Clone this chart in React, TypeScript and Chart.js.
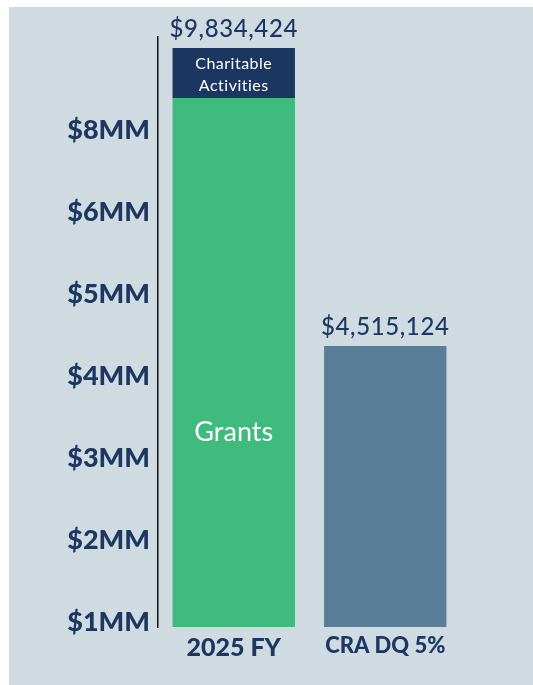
import React, { useEffect, useRef } from "react";
import { Chart, registerables } from "chart.js";

Chart.register(...registerables);

// ---- data ----
const CATEGORIES = ["2025 FY", "CRA DQ 5%"];
const GRANTS = [8942000, null];
const CHARITABLE_ACTIVITIES = [892424, null];
const CRA_DQ = [null, 4515124];
const Y_TICK_LABELS = ["$1MM", "$2MM", "$3MM", "$4MM", "$5MM", "$6MM", "$8MM"];
const GRANTS_LABEL = "Grants";
const CHARITABLE_LABEL = ["Charitable", "Activities"];

// ---- styles ----
const PANEL_BG = "#cfdae1";
const GREEN = "#40bb7e";
const NAVY_BAR = "#1b3660";
const SLATE = "#5a7e97";
const TEXT_NAVY = "#1c3762";
const FONT = "Lato, 'Open Sans', sans-serif";
const HEAVY_FONT = "'Lato Black', Lato, 'Open Sans', sans-serif";

const fmt = (v: number) => "$" + v.toLocaleString("en-US");

const labelPlugin = {
  id: "barLabels",
  afterDatasetsDraw(chart: any) {
    const ctx = chart.ctx as CanvasRenderingContext2D;
    const y = chart.scales.y;
    ctx.save();
    ctx.textAlign = "center";

    // totals above each category
    CATEGORIES.forEach((_, i) => {
      let total = 0;
      let x: number | null = null;
      chart.data.datasets.forEach((d: any, di: number) => {
        const v = d.data[i];
        if (v != null) {
          total += v;
          x = chart.getDatasetMeta(di).data[i].x;
        }
      });
      if (x == null) return;
      const top = y.getPixelForValue(total);
      ctx.font = `500 24px ${FONT}`;
      (ctx as any).letterSpacing = "0.6px";
      ctx.fillStyle = TEXT_NAVY;
      ctx.textBaseline = "alphabetic";
      ctx.fillText(fmt(total), x, top - 11);
    });
    (ctx as any).letterSpacing = "0px";

    // Grants label inside the green bar
    const g = chart.getDatasetMeta(0).data[0];
    ctx.fillStyle = "#ffffff";
    ctx.font = `400 27px ${FONT}`;
    ctx.textBaseline = "middle";
    ctx.fillText(GRANTS_LABEL, g.x, y.getPixelForValue((GRANTS[0] as number) / 3));

    // Charitable Activities label inside the navy segment
    const c = chart.getDatasetMeta(1).data[0];
    const mid = (c.y + c.base) / 2;
    ctx.font = `400 16px ${FONT}`;
    (ctx as any).letterSpacing = "0.5px";
    ctx.textBaseline = "alphabetic";
    ctx.fillText(CHARITABLE_LABEL[0], c.x, mid - 3.5);
    ctx.fillText(CHARITABLE_LABEL[1], c.x, mid + 18);
    ctx.restore();
  },
};

export default function App() {
  const ref = useRef<HTMLCanvasElement | null>(null);

  useEffect(() => {
    if (!ref.current) return;
    const common = {
      barPercentage: 0.808,
      categoryPercentage: 1,
      borderWidth: 0,
      borderSkipped: false,
    };
    const chart = new Chart(ref.current, {
      type: "bar",
      data: {
        labels: CATEGORIES,
        datasets: [
          { label: "Grants", data: GRANTS, backgroundColor: GREEN, base: -500000, ...common },
          { label: "Charitable Activities", data: CHARITABLE_ACTIVITIES, backgroundColor: NAVY_BAR, ...common },
          { label: "CRA DQ 5%", data: CRA_DQ, backgroundColor: SLATE, base: -500000, ...common },
        ] as any,
      },
      options: {
        animation: false,
        responsive: true,
        maintainAspectRatio: false,
        layout: { padding: { top: 30, right: 72, bottom: 18, left: 0 } },
        plugins: { legend: { display: false }, tooltip: { enabled: false } },
        scales: {
          x: {
            stacked: true,
            grid: { display: false, drawTicks: false },
            border: { display: false },
            ticks: {
              color: TEXT_NAVY,
              padding: 6,
              font: (c: any) => ({
                family: HEAVY_FONT,
                weight: "900",
                size: c.index === 0 ? 25 : 22,
              }),
            },
            afterFit: (axis: any) => {
              axis.height = 40;
            },
          },
          y: {
            display: false,
            stacked: true,
            min: -500000,
            max: 10030000,
          },
          yl: {
            type: "linear",
            position: "left",
            min: -0.055,
            max: 7.143,
            grid: { display: false, drawTicks: false },
            border: { display: true, color: "#111111", width: 1.5 },
            afterBuildTicks: (axis: any) => {
              axis.ticks = Y_TICK_LABELS.map((_, i) => ({ value: i }));
            },
            afterFit: (axis: any) => {
              axis.width = 149;
            },
            ticks: {
              autoSkip: false,
              padding: 8,
              color: TEXT_NAVY,
              font: { family: HEAVY_FONT, weight: "900", size: 27 },
              callback: (v: any) => Y_TICK_LABELS[v as number] ?? "",
            },
          },
        },
      } as any,
      plugins: [labelPlugin],
    });
    return () => chart.destroy();
  }, []);

  return (
    <div
      style={{
        position: "fixed",
        left: 9,
        top: 7,
        width: 524,
        height: 678,
        background: PANEL_BG,
      }}
    >
      <canvas ref={ref} />
    </div>
  );
}
